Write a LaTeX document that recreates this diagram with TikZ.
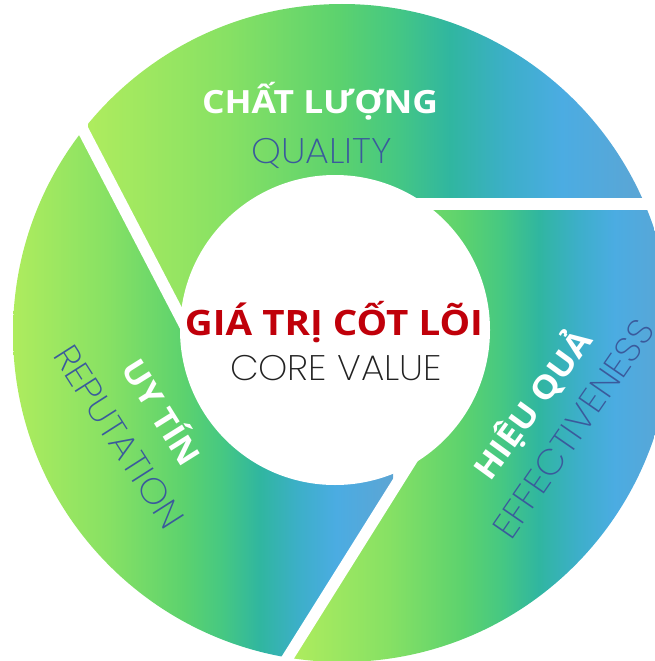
\documentclass[tikz,border=0pt]{standalone}
\usepackage{fontspec}
\usepackage{graphicx}
\setmainfont{Open Sans}
\newfontfamily\headfont{Open Sans}
\newfontfamily\lightfont{Poppins ExtraLight}

\definecolor{gA}{HTML}{AEEC5E}
\definecolor{gB}{HTML}{87E164}
\definecolor{gC}{HTML}{5CD26E}
\definecolor{gD}{HTML}{46C882}
\definecolor{gE}{HTML}{30B6A0}
\definecolor{gF}{HTML}{3CAFC8}
\definecolor{gG}{HTML}{4BACE2}
\definecolor{gH}{HTML}{5CA5D4}
\definecolor{subblue}{HTML}{3A5A9C}
\definecolor{corered}{HTML}{C0000A}
\definecolor{coregray}{HTML}{222222}

% lime -> green -> teal -> blue, mapped onto the 25bp..75bp band
\pgfdeclarehorizontalshading{bladefill}{100bp}{%
  color(0bp)=(gA); color(25bp)=(gA); color(37.5bp)=(gB);
  color(47.5bp)=(gC); color(52.5bp)=(gD); color(57.5bp)=(gE);
  color(62.5bp)=(gF); color(67.5bp)=(gG); color(75bp)=(gH);
  color(100bp)=(gH)}

\tikzset{
  headtxt/.style={font={\headfont\bfseries\fontsize{32pt}{32pt}\selectfont}, text=white, anchor=base, inner sep=0pt},
  coretxt/.style={font={\headfont\bfseries\fontsize{35pt}{35pt}\selectfont}, text=corered, anchor=base, inner sep=0pt},
  subtxt/.style={font={\lightfont\fontsize{35.5pt}{35.5pt}\selectfont}, text=subblue, anchor=base, inner sep=0pt},
  gap/.style={white, line width=11.5pt},
}

\begin{document}
\begin{tikzpicture}[x=1pt,y=-1pt]
\useasboundingbox (0,0) rectangle (655,661);

% centres of the inner hole and of the outer rim
\coordinate (C) at (335,330);
\coordinate (O) at (342,333);
% the three cuts: each starts at a foot point inside the hole and runs outwards
\coordinate (F1) at (218.7,390.6);
\coordinate (E1) at (-12.3,-52.9);
\coordinate (F2) at (335,204);
\coordinate (E2) at (760,204);
\coordinate (F3) at (448.5,401.2);
\coordinate (E3) at (183,824.7);

% top blade
\begin{scope}
  \clip (O) circle [radius=329pt];
  \clip (F1) -- (E1) -- (760,-52.9) -- (E2) -- (F2) -- (C) -- cycle;
  \shade[shading=bladefill] (88,-10) rectangle (645,400);
\end{scope}

% right blade
\begin{scope}
  \clip (O) circle [radius=329pt];
  \clip (F2) -- (E2) -- (760,900) -- (E3) -- (F3) -- (C) -- cycle;
  \shade[shading=bladefill] (293,150) rectangle (671,700);
\end{scope}

% left blade
\begin{scope}
  \clip (O) circle [radius=329pt];
  \clip (F3) -- (E3) -- (-100,824.7) -- (-100,-52.9) -- (E1) -- (F1) -- (C) -- cycle;
  \shade[shading=bladefill] (13,100) rectangle (393,700);
\end{scope}

% hole and the white gaps between the blades
\fill[white] (C) circle [radius=155pt];
\draw[gap] (F1) -- (E1);
\draw[gap] (F2) -- (E2);
\draw[gap] (F3) -- (E3);

% centre
\node[coretxt] (core) at (334,335) {\resizebox{298pt}{\height}{GIÁ TRỊ CỐT LÕI}};
\node[subtxt, text=coregray] (coreen) at (336,380) {\resizebox{212pt}{\height}{CORE VALUE}};

% top blade
\node[headtxt] (quality) at (320,113) {\resizebox{236pt}{\height}{CHẤT LƯỢNG}};
\node[subtxt] (qualityen) at (321.5,163) {\resizebox{141pt}{\height}{QUALITY}};

% left blade
\node[headtxt, rotate=-58] (reput) at (151.7,418.6) {\resizebox{117pt}{\height}{UY TÍN}};
\node[subtxt, rotate=-57.5] (reputen) at (108.5,443.7) {\resizebox{210pt}{\height}{REPUTATION}};

% right blade
\node[headtxt, rotate=54] (effect) at (542.3,411.8) {\resizebox{175pt}{\height}{HIỆU QUẢ}};
\node[subtxt, rotate=55.4] (effecten) at (583.8,436.1) {\resizebox{256pt}{\height}{EFFECTIVENESS}};
\end{tikzpicture}
\end{document}
